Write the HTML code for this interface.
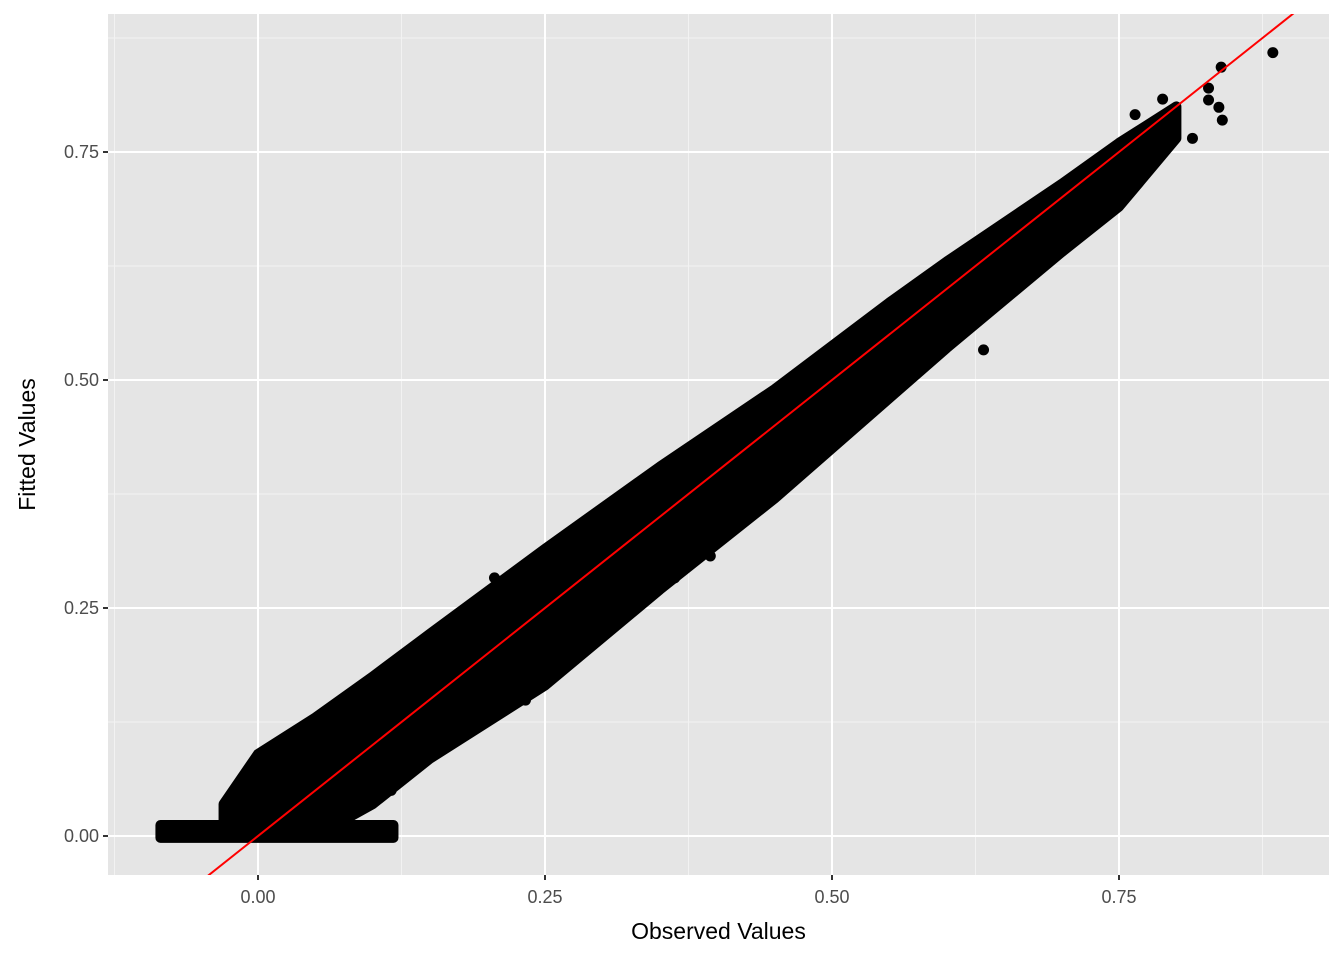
<!DOCTYPE html>
<html><head><meta charset="utf-8"><style>
html,body{margin:0;padding:0;background:#fff;font-family:"Liberation Sans",sans-serif;width:1344px;height:960px;overflow:hidden}
svg{display:block}
</style></head><body>
<svg id="c" width="1344" height="960"></svg>
<script>
const gridMajor=[0,0.25,0.5,0.75];
const gridMinorX=[-0.125,0.125,0.375,0.625,0.875];
const gridMinorY=[0.125,0.375,0.625,0.875];
const tickLabels=["0.00","0.25","0.50","0.75"];
const bandX=[-0.03,0.0,0.05,0.1,0.15,0.25,0.35,0.45,0.55,0.6,0.7,0.75,0.8];
const bandUpper=[0.035,0.09,0.13,0.175,0.222,0.315,0.405,0.49,0.585,0.63,0.715,0.76,0.8];
const bandLower=[0.0,0.0,0.0,0.035,0.085,0.165,0.27,0.37,0.48,0.535,0.64,0.69,0.765];
const zeroRowX=[-0.085,0.118];
const zeroRowY=[-0.002,0.012];
const outX=[0.884,0.839,0.828,0.828,0.837,0.840,0.814,0.789,0.788,0.764,0.567,0.632,0.394,0.363,0.233,0.206,0.116];
const outY=[0.859,0.843,0.820,0.807,0.799,0.785,0.765,0.750,0.808,0.791,0.527,0.533,0.307,0.283,0.149,0.283,0.050];
const X0=108,X1=1329,Y0=14,Y1=875;
const sx=v=>258+v*1148, sy=v=>836-v*912;
const svg=document.getElementById('c');const NS='http://www.w3.org/2000/svg';
function mk(t,a,p){const e=document.createElementNS(NS,t);for(const k in a)e.setAttribute(k,a[k]);(p||svg).appendChild(e);return e;}
const panel=mk('rect',{x:X0,y:Y0,width:X1-X0,height:Y1-Y0,fill:'#e5e5e5'});


gridMinorX.forEach(v=>{const l=mk('line',{x1:sx(v),x2:sx(v),y1:Y0,y2:Y1,stroke:'#f2f2f2','stroke-width':1});});
gridMinorY.forEach(v=>{const l=mk('line',{y1:sy(v),y2:sy(v),x1:X0,x2:X1,stroke:'#f2f2f2','stroke-width':1});});
gridMajor.forEach((v,i)=>{
 let l=mk('line',{x1:sx(v),x2:sx(v),y1:Y0,y2:Y1,stroke:'#fff','stroke-width':2});
 l=mk('line',{y1:sy(v),y2:sy(v),x1:X0,x2:X1,stroke:'#fff','stroke-width':2});
 l=mk('line',{x1:sx(v),x2:sx(v),y1:Y1,y2:Y1+5,stroke:'#333','stroke-width':2});
 l=mk('line',{y1:sy(v),y2:sy(v),x1:X0-5,x2:X0,stroke:'#333','stroke-width':2});
 let t=mk('text',{x:sx(v),y:Y1+28,'text-anchor':'middle','font-size':18,fill:'#4d4d4d'});t.textContent=tickLabels[i];
 t=mk('text',{x:X0-9,y:sy(v)+6,'text-anchor':'end','font-size':18,fill:'#4d4d4d'});t.textContent=tickLabels[i];
});
const g=mk('g',{});


let pts=bandX.map((x,i)=>sx(x)+','+sy(bandUpper[i]));
for(let i=bandX.length-1;i>=0;i--)pts.push(sx(bandX[i])+','+sy(bandLower[i]));
const band=mk('polygon',{points:pts.join(' '),fill:'#000',stroke:'#000','stroke-width':10,'stroke-linejoin':'round'},g);


const zr=mk('rect',{x:sx(zeroRowX[0]),y:sy(zeroRowY[1]),width:sx(zeroRowX[1])-sx(zeroRowX[0]),height:sy(zeroRowY[0])-sy(zeroRowY[1]),fill:'#000',stroke:'#000','stroke-width':10,'stroke-linejoin':'round'},g);


outX.forEach((x,i)=>{const c=mk('circle',{cx:sx(x),cy:sy(outY[i]),r:5.5,fill:'#000'},g);});
const cp=mk('clipPath',{id:'cp'});mk('rect',{x:X0,y:Y0,width:X1-X0,height:Y1-Y0},cp);
const ln=mk('line',{x1:sx(-0.2),y1:sy(-0.2),x2:sx(1),y2:sy(1),stroke:'#ff0000','stroke-width':2,'clip-path':'url(#cp)'});


let t=mk('text',{x:(X0+X1)/2,y:939,'text-anchor':'middle','font-size':23,fill:'#000'});t.textContent='Observed Values';


t=mk('text',{x:0,y:0,'text-anchor':'middle','font-size':23,fill:'#000',transform:'translate(35,'+((Y0+Y1)/2)+') rotate(-90)'});t.textContent='Fitted Values';


</script>
</body></html>
